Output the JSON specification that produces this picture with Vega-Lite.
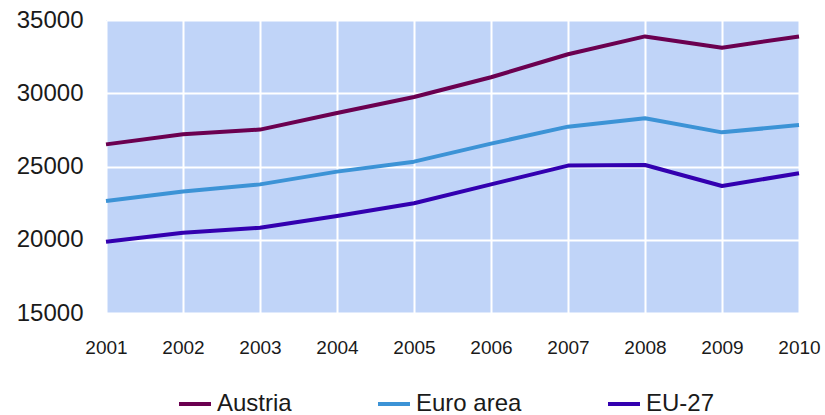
{
  "$schema": "https://vega.github.io/schema/vega-lite/v6.json",
  "width": 693,
  "height": 293,
  "autosize": {"type": "none"},
  "padding": {"left": 106, "top": 20, "right": 26, "bottom": 102},
  "background": "#ffffff",
  "config": {
    "view": {"fill": "#c0d4f8", "stroke": null},
    "font": "Liberation Sans"
  },
  "data": {
    "values": [
      {"year": 2001, "series": "Austria", "value": 26510},
      {"year": 2002, "series": "Austria", "value": 27200},
      {"year": 2003, "series": "Austria", "value": 27520},
      {"year": 2004, "series": "Austria", "value": 28650},
      {"year": 2005, "series": "Austria", "value": 29740},
      {"year": 2006, "series": "Austria", "value": 31090},
      {"year": 2007, "series": "Austria", "value": 32660},
      {"year": 2008, "series": "Austria", "value": 33880},
      {"year": 2009, "series": "Austria", "value": 33110},
      {"year": 2010, "series": "Austria", "value": 33880},
      {"year": 2001, "series": "Euro area", "value": 22640},
      {"year": 2002, "series": "Euro area", "value": 23300},
      {"year": 2003, "series": "Euro area", "value": 23780},
      {"year": 2004, "series": "Euro area", "value": 24650},
      {"year": 2005, "series": "Euro area", "value": 25330},
      {"year": 2006, "series": "Euro area", "value": 26560},
      {"year": 2007, "series": "Euro area", "value": 27720},
      {"year": 2008, "series": "Euro area", "value": 28290},
      {"year": 2009, "series": "Euro area", "value": 27330},
      {"year": 2010, "series": "Euro area", "value": 27830},
      {"year": 2001, "series": "EU-27", "value": 19870},
      {"year": 2002, "series": "EU-27", "value": 20480},
      {"year": 2003, "series": "EU-27", "value": 20820},
      {"year": 2004, "series": "EU-27", "value": 21620},
      {"year": 2005, "series": "EU-27", "value": 22490},
      {"year": 2006, "series": "EU-27", "value": 23780},
      {"year": 2007, "series": "EU-27", "value": 25060},
      {"year": 2008, "series": "EU-27", "value": 25100},
      {"year": 2009, "series": "EU-27", "value": 23670},
      {"year": 2010, "series": "EU-27", "value": 24540}
    ]
  },
  "mark": {"type": "line", "strokeWidth": 4, "strokeJoin": "round"},
  "encoding": {
    "x": {
      "field": "year",
      "type": "quantitative",
      "scale": {"domain": [2001, 2010], "nice": false, "zero": false},
      "axis": {
        "title": null,
        "values": [2001, 2002, 2003, 2004, 2005, 2006, 2007, 2008, 2009, 2010],
        "format": "d",
        "ticks": false,
        "domain": false,
        "grid": true,
        "gridColor": "#ffffff",
        "gridWidth": 2,
        "gridOpacity": 1,
        "labelFontSize": 19,
        "labelColor": "#1a1a1a",
        "labelPadding": 25,
        "labelFlush": false
      }
    },
    "y": {
      "field": "value",
      "type": "quantitative",
      "scale": {"domain": [15000, 35000], "nice": false, "zero": false},
      "axis": {
        "title": null,
        "values": [15000, 20000, 25000, 30000, 35000],
        "format": "d",
        "ticks": false,
        "domain": false,
        "grid": true,
        "gridColor": "#ffffff",
        "gridWidth": 2,
        "gridOpacity": 1,
        "labelFontSize": 24,
        "labelColor": "#1a1a1a",
        "labelPadding": 23
      }
    },
    "color": {
      "field": "series",
      "type": "nominal",
      "sort": ["Austria", "Euro area", "EU-27"],
      "scale": {
        "domain": ["Austria", "Euro area", "EU-27"],
        "range": ["#6b0050", "#3c93d6", "#3300b0"]
      },
      "legend": {
        "title": null,
        "orient": "none",
        "direction": "horizontal",
        "legendX": 71,
        "legendY": 366,
        "symbolType": "stroke",
        "symbolSize": 1024,
        "symbolStrokeWidth": 4,
        "labelFontSize": 24,
        "labelColor": "#1a1a1a",
        "labelOffset": 4,
        "columnPadding": 78
      }
    }
  }
}
